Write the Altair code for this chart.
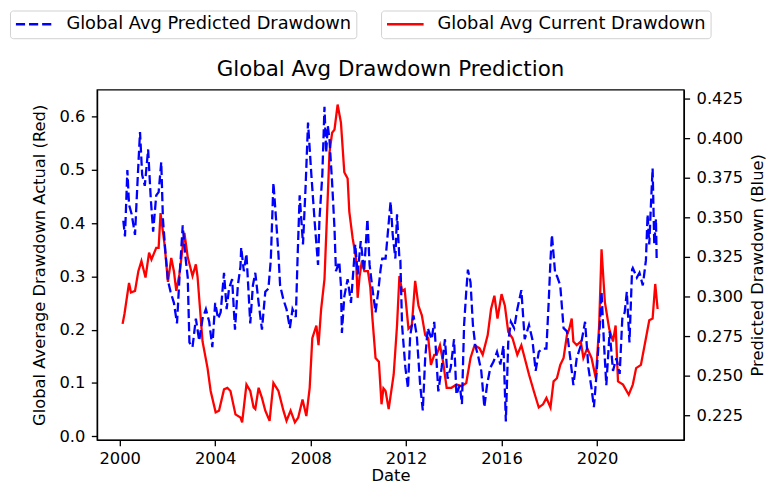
import altair as alt
import pandas as pd

FONT = "DejaVu Sans"
RED_LABEL = "Global Avg Current Drawdown"
BLUE_LABEL = "Global Avg Predicted Drawdown"

red_years = [2000.12, 2000.20, 2000.39, 2000.47, 2000.64, 2000.78, 2000.91, 2001.08, 2001.23, 2001.33,
             2001.53, 2001.63, 2001.71, 2001.88, 2002.02, 2002.16, 2002.27, 2002.37, 2002.50, 2002.71,
             2002.85, 2003.05, 2003.19, 2003.26, 2003.47, 2003.68, 2003.81, 2004.02, 2004.16, 2004.37,
             2004.51, 2004.64, 2004.85, 2005.06, 2005.13, 2005.31, 2005.47, 2005.61, 2005.68, 2005.82,
             2005.96, 2006.10, 2006.28, 2006.44, 2006.65, 2006.86, 2006.99, 2007.16, 2007.34, 2007.48,
             2007.66, 2007.82, 2007.96, 2008.07, 2008.24, 2008.33, 2008.44, 2008.58, 2008.79, 2008.90,
             2009.00, 2009.13, 2009.27, 2009.41, 2009.55, 2009.62, 2009.76, 2009.90, 2009.97, 2010.05,
             2010.15, 2010.25, 2010.40, 2010.50, 2010.59, 2010.72, 2010.86, 2010.97, 2011.05, 2011.14,
             2011.27, 2011.48, 2011.62, 2011.72, 2011.83, 2011.94, 2012.10, 2012.24, 2012.38, 2012.52,
             2012.66, 2012.80, 2012.93, 2013.04, 2013.18, 2013.28, 2013.42, 2013.55, 2013.70, 2013.90,
             2014.11, 2014.32, 2014.52, 2014.70, 2014.87, 2015.08, 2015.21, 2015.42, 2015.56, 2015.70,
             2015.83, 2016.00, 2016.14, 2016.28, 2016.46, 2016.66, 2016.83, 2016.97, 2017.15, 2017.35,
             2017.56, 2017.74, 2017.88, 2018.05, 2018.18, 2018.32, 2018.46, 2018.60, 2018.74, 2018.84,
             2018.94, 2019.01, 2019.15, 2019.32, 2019.43, 2019.59, 2019.77, 2019.95, 2020.09, 2020.19,
             2020.33, 2020.51, 2020.67, 2020.78, 2020.88, 2021.09, 2021.33, 2021.50, 2021.64, 2021.84,
             2022.05, 2022.19, 2022.33, 2022.44, 2022.54]
red_vals = [0.211, 0.230, 0.288, 0.270, 0.273, 0.310, 0.329, 0.298, 0.345, 0.332,
            0.354, 0.354, 0.419, 0.360, 0.290, 0.335, 0.310, 0.273, 0.304, 0.382,
            0.336, 0.301, 0.323, 0.300, 0.178, 0.128, 0.085, 0.045, 0.048, 0.088,
            0.091, 0.085, 0.041, 0.035, 0.026, 0.097, 0.085, 0.054, 0.051, 0.091,
            0.072, 0.048, 0.029, 0.100, 0.085, 0.048, 0.029, 0.048, 0.026, 0.035,
            0.069, 0.038, 0.091, 0.184, 0.208, 0.171, 0.239, 0.295, 0.533, 0.570,
            0.576, 0.623, 0.589, 0.496, 0.484, 0.422, 0.372, 0.335, 0.260, 0.300,
            0.330, 0.310, 0.310, 0.280, 0.221, 0.147, 0.140, 0.060, 0.090, 0.085,
            0.051, 0.116, 0.208, 0.301, 0.273, 0.276, 0.202, 0.208, 0.292, 0.245,
            0.227, 0.190, 0.184, 0.134, 0.153, 0.153, 0.171, 0.140, 0.091, 0.091,
            0.097, 0.094, 0.100, 0.147, 0.171, 0.165, 0.153, 0.190, 0.239, 0.264,
            0.221, 0.267, 0.245, 0.196, 0.184, 0.153, 0.171, 0.147, 0.116, 0.085,
            0.054, 0.060, 0.072, 0.054, 0.103, 0.109, 0.134, 0.147, 0.190, 0.202,
            0.221, 0.178, 0.171, 0.178, 0.147, 0.165, 0.147, 0.109, 0.208, 0.351,
            0.252, 0.202, 0.178, 0.208, 0.103, 0.097, 0.078, 0.097, 0.128, 0.134,
            0.184, 0.218, 0.221, 0.286, 0.239]

blue_years = [2000.15, 2000.22, 2000.32, 2000.39, 2000.50, 2000.64, 2000.75, 2000.85, 2000.94, 2001.05,
              2001.19, 2001.30, 2001.40, 2001.53, 2001.63, 2001.74, 2001.81, 2001.91, 2002.02, 2002.13,
              2002.27, 2002.40, 2002.50, 2002.64, 2002.74, 2002.85, 2002.92, 2003.05, 2003.19, 2003.33,
              2003.47, 2003.61, 2003.75, 2003.88, 2004.00, 2004.12, 2004.23, 2004.37, 2004.48, 2004.58,
              2004.71, 2004.83, 2004.95, 2005.06, 2005.09, 2005.20, 2005.31, 2005.47, 2005.58, 2005.68,
              2005.82, 2005.96, 2006.10, 2006.23, 2006.33, 2006.44, 2006.55, 2006.65, 2006.72, 2006.86,
              2006.99, 2007.13, 2007.24, 2007.38, 2007.45, 2007.54, 2007.68, 2007.79, 2007.89, 2008.03,
              2008.17, 2008.31, 2008.37, 2008.49, 2008.58, 2008.65, 2008.72, 2008.79, 2008.90, 2009.00,
              2009.06, 2009.20, 2009.27, 2009.31, 2009.41, 2009.55, 2009.69, 2009.87, 2009.97, 2010.10,
              2010.24, 2010.38, 2010.47, 2010.59, 2010.72, 2010.83, 2010.93, 2011.00, 2011.14, 2011.35,
              2011.44, 2011.55, 2011.62, 2011.72, 2011.76, 2011.83, 2011.97, 2012.08, 2012.17, 2012.31,
              2012.45, 2012.59, 2012.70, 2012.80, 2012.91, 2013.07, 2013.18, 2013.35, 2013.49, 2013.63,
              2013.74, 2013.87, 2014.01, 2014.11, 2014.25, 2014.34, 2014.43, 2014.52, 2014.59, 2014.70,
              2014.80, 2014.90, 2015.01, 2015.15, 2015.28, 2015.39, 2015.53, 2015.67, 2015.81, 2015.95,
              2016.08, 2016.18, 2016.28, 2016.39, 2016.53, 2016.66, 2016.83, 2016.97, 2017.15, 2017.29,
              2017.43, 2017.56, 2017.70, 2017.88, 2017.98, 2018.05, 2018.11, 2018.25, 2018.32, 2018.46,
              2018.60, 2018.74, 2018.88, 2019.01, 2019.15, 2019.32, 2019.50, 2019.64, 2019.77, 2019.87,
              2019.98, 2020.12, 2020.19, 2020.29, 2020.39, 2020.53, 2020.67, 2020.81, 2020.95, 2021.06,
              2021.16, 2021.25, 2021.36, 2021.47, 2021.50, 2021.67, 2021.78, 2021.92, 2022.05, 2022.12,
              2022.19, 2022.26, 2022.33, 2022.40, 2022.47, 2022.50]
blue_vals = [0.348, 0.338, 0.380, 0.358, 0.352, 0.339, 0.374, 0.404, 0.377, 0.370,
             0.393, 0.362, 0.341, 0.364, 0.366, 0.385, 0.349, 0.329, 0.310, 0.303,
             0.296, 0.283, 0.311, 0.345, 0.327, 0.312, 0.271, 0.268, 0.286, 0.272,
             0.286, 0.292, 0.284, 0.268, 0.296, 0.286, 0.290, 0.315, 0.292, 0.305,
             0.311, 0.279, 0.307, 0.319, 0.331, 0.316, 0.327, 0.283, 0.307, 0.315,
             0.296, 0.279, 0.303, 0.305, 0.323, 0.372, 0.349, 0.327, 0.307, 0.298,
             0.292, 0.280, 0.292, 0.287, 0.323, 0.364, 0.333, 0.370, 0.410, 0.377,
             0.347, 0.320, 0.349, 0.377, 0.420, 0.391, 0.408, 0.399, 0.372, 0.343,
             0.316, 0.322, 0.307, 0.277, 0.300, 0.311, 0.296, 0.333, 0.314, 0.335,
             0.316, 0.349, 0.320, 0.305, 0.290, 0.303, 0.317, 0.324, 0.324, 0.360,
             0.339, 0.324, 0.352, 0.324, 0.323, 0.282, 0.255, 0.242, 0.275, 0.288,
             0.275, 0.244, 0.228, 0.261, 0.280, 0.273, 0.284, 0.240, 0.255, 0.273,
             0.248, 0.255, 0.273, 0.238, 0.244, 0.232, 0.282, 0.303, 0.317, 0.309,
             0.282, 0.269, 0.263, 0.253, 0.230, 0.244, 0.255, 0.259, 0.265, 0.257,
             0.269, 0.221, 0.271, 0.284, 0.280, 0.292, 0.304, 0.273, 0.282, 0.273,
             0.253, 0.265, 0.267, 0.267, 0.298, 0.323, 0.339, 0.314, 0.313, 0.307,
             0.280, 0.278, 0.261, 0.244, 0.261, 0.269, 0.284, 0.255, 0.242, 0.230,
             0.251, 0.282, 0.303, 0.271, 0.244, 0.278, 0.253, 0.261, 0.251, 0.286,
             0.290, 0.303, 0.271, 0.317, 0.318, 0.312, 0.315, 0.307, 0.323, 0.352,
             0.333, 0.358, 0.381, 0.333, 0.349, 0.324]

x_ticks = [2000, 2004, 2008, 2012, 2016, 2020]
left_ticks = [0.0, 0.1, 0.2, 0.3, 0.4, 0.5, 0.6]
right_ticks = [0.225, 0.250, 0.275, 0.300, 0.325, 0.350, 0.375, 0.400, 0.425]

red_df = pd.DataFrame({"Date": red_years, "value": red_vals, "series": RED_LABEL})
blue_df = pd.DataFrame({"Date": blue_years, "value": blue_vals, "series": BLUE_LABEL})

DASH = [9.25, 4]

x_enc = alt.X(
    "Date:Q",
    scale=alt.Scale(domain=[1999.05, 2023.64], nice=False, zero=False),
    axis=alt.Axis(values=x_ticks, format="d", title="Date", labelPadding=5, titlePadding=1),
)

# legend handle: a 37px horizontal stroke drawn from a small symbol size
legend_common = dict(
    orient="none",
    title=None,
    symbolType="M-1,0H3.625",
    symbolSize=256,
    symbolStrokeWidth=2.5,
    labelFontSize=18,
    labelFont=FONT,
    labelColor="black",
    labelOffset=33.5,
    labelLimit=1000,
    padding=4.5,
    strokeColor="#d0d0d0",
    fillColor="white",
    cornerRadius=3,
    legendY=-80,
)

red = alt.Chart(red_df).mark_line(strokeWidth=2.3).encode(
    x=x_enc,
    y=alt.Y(
        "value:Q",
        scale=alt.Scale(domain=[-0.007, 0.651], nice=False, zero=False),
        axis=alt.Axis(orient="left", values=left_ticks, format=".1f",
                      title="Global Average Drawdown Actual (Red)",
                      labelPadding=6.5, titlePadding=12),
    ),
    color=alt.Color(
        "series:N",
        scale=alt.Scale(domain=[RED_LABEL], range=["#ff0000"]),
        legend=alt.Legend(legendX=287, **legend_common),
    ),
)

blue = alt.Chart(blue_df).mark_line(strokeWidth=2.3, strokeDash=DASH).encode(
    x=x_enc,
    y=alt.Y(
        "value:Q",
        scale=alt.Scale(domain=[0.2093, 0.4308], nice=False, zero=False),
        axis=alt.Axis(orient="right", values=right_ticks, format=".3f",
                      title="Predicted Drawdown (Blue)", titleAngle=270,
                      titleBaseline="top", labelPadding=6.5, titlePadding=7),
    ),
    color=alt.Color(
        "series:N",
        scale=alt.Scale(domain=[BLUE_LABEL], range=["#0000ff"]),
        legend=alt.Legend(legendX=-88, symbolDash=DASH, **legend_common),
    ),
)

chart = (
    alt.layer(red, blue)
    .resolve_scale(y="independent", color="independent")
    .resolve_legend(color="independent")
    .properties(
        width=593,
        height=354,
        autosize=alt.AutoSizeParams(type="none"),
        padding={"left": 90, "top": 80, "right": 83, "bottom": 44},
        title=alt.TitleParams(
            text="Global Avg Drawdown Prediction",
            fontSize=21.6,
            font=FONT,
            fontWeight="normal",
            color="black",
            anchor="middle",
            frame="group",
            baseline="alphabetic",
            offset=-88.5,
        ),
    )
    .configure(font=FONT, background="white")
    .configure_view(stroke="black", strokeWidth=1.33)
    .configure_axis(
        grid=False,
        domainColor="black",
        domainWidth=1.33,
        tickColor="black",
        tickWidth=1.33,
        tickSize=5.8,
        labelColor="black",
        titleColor="black",
        labelFont=FONT,
        titleFont=FONT,
        labelFontSize=16.5,
        titleFontSize=16.5,
        titleFontWeight="normal",
    )
)

chart.save("out.html", embed_options={"renderer": "svg", "actions": False})
